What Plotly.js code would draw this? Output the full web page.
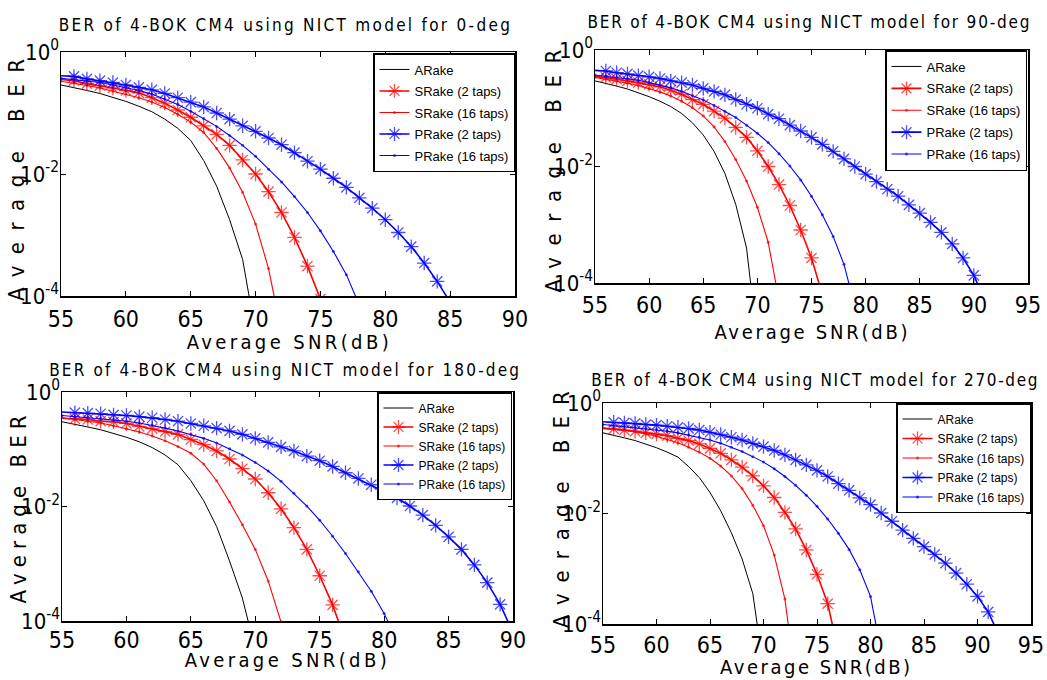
<!DOCTYPE html>
<html><head><meta charset="utf-8">
<script src="https://cdn.plot.ly/plotly-3.0.1.min.js"></script>
<style>
body{margin:0;background:#fff}
#chart{width:1047px;height:680px}
</style>
</head><body><div id="chart"></div>
<script>
// ---------- data ----------
const SNR_DB = [55,56,57,58,59,60,61,62,63,64,65,66,67,68,69,70,71,72,73,74,75,76,77,78,79,80,81,82,83,84,85,86,87,88,89,90,91,92];

const PANEL_TITLES = [
  'BER of 4-BOK CM4 using NICT model for 0-deg',
  'BER of 4-BOK CM4 using NICT model for 90-deg',
  'BER of 4-BOK CM4 using NICT model for 180-deg',
  'BER of 4-BOK CM4 using NICT model for 270-deg'
];
const SERIES_NAMES = ['ARake','SRake (2 taps)','SRake (16 taps)','PRake (2 taps)','PRake (16 taps)'];
const X_TITLE = 'Average SNR(dB)';
const Y_TITLE = 'Average BER';
const X_TICKS_90 = [55,60,65,70,75,80,85,90];
const X_TICKS_95 = [55,60,65,70,75,80,85,90,95];
const Y_TICK_VALS = [1e-4,1e-2,1];
const Y_TICK_TEXT = ['10<sup>-4</sup>','10<sup>-2</sup>','10<sup>0</sup>'];

// 0-deg
const ber0_ARake   = [0.288,0.263,0.234,0.209,0.182,0.155,0.129,0.105,7.94e-2,5.62e-2,3.55e-2,1.66e-2,6.31e-3,1.78e-3,3.98e-4,2.51e-5];
const ber0_SRake2  = [0.355,0.339,0.302,0.282,0.257,0.234,0.214,0.178,0.145,0.112,8.51e-2,6.17e-2,4.47e-2,2.95e-2,1.70e-2,1.00e-2,5.13e-3,2.34e-3,9.12e-4,3.09e-4,8.91e-5];
const ber0_SRake16 = [0.331,0.309,0.282,0.257,0.229,0.204,0.178,0.151,0.123,9.55e-2,7.08e-2,4.79e-2,2.63e-2,1.26e-2,5.01e-3,1.51e-3,2.82e-4,2.51e-5];
const ber0_PRake2  = [0.407,0.398,0.363,0.339,0.316,0.288,0.263,0.240,0.209,0.178,0.151,0.126,0.100,7.94e-2,6.17e-2,5.01e-2,3.89e-2,3.02e-2,2.24e-2,1.62e-2,1.20e-2,8.51e-3,6.03e-3,4.07e-3,2.75e-3,1.78e-3,1.10e-3,6.46e-4,3.47e-4,1.74e-4,7.94e-5];
const ber0_PRake16 = [0.372,0.355,0.339,0.316,0.288,0.263,0.234,0.204,0.170,0.138,0.107,8.13e-2,6.03e-2,4.27e-2,2.95e-2,1.95e-2,1.20e-2,7.41e-3,4.27e-3,2.34e-3,1.17e-3,5.37e-4,2.24e-4,7.08e-5];

// 90-deg
const ber90_ARake   = [0.295,0.269,0.240,0.214,0.186,0.158,0.132,0.107,8.13e-2,5.62e-2,3.47e-2,1.82e-2,7.59e-3,2.24e-3,3.98e-4,1.0e-5];
const ber90_SRake2  = [0.355,0.339,0.316,0.295,0.275,0.257,0.234,0.204,0.174,0.141,0.117,8.91e-2,6.76e-2,4.68e-2,3.16e-2,1.86e-2,1.00e-2,4.90e-3,2.14e-3,8.13e-4,2.69e-4,6.31e-5];
const ber90_SRake16 = [0.339,0.316,0.295,0.269,0.245,0.219,0.191,0.162,0.132,0.102,7.41e-2,4.79e-2,2.69e-2,1.32e-2,5.62e-3,2.00e-3,5.01e-4,5.01e-5];
const ber90_PRake2  = [0.447,0.437,0.407,0.389,0.363,0.347,0.324,0.295,0.275,0.251,0.219,0.195,0.170,0.141,0.117,0.100,7.94e-2,6.61e-2,5.13e-2,4.07e-2,3.16e-2,2.40e-2,1.82e-2,1.35e-2,1.00e-2,7.41e-3,5.50e-3,4.07e-3,3.09e-3,2.19e-3,1.58e-3,1.10e-3,7.41e-4,4.68e-4,2.69e-4,1.35e-4,5.01e-5];
const ber90_PRake16 = [0.372,0.355,0.339,0.324,0.302,0.275,0.251,0.224,0.195,0.166,0.138,0.112,8.91e-2,6.92e-2,5.13e-2,3.72e-2,2.57e-2,1.66e-2,1.02e-2,5.89e-3,3.09e-3,1.48e-3,6.31e-4,2.09e-4,3.98e-5];

// 180-deg
const ber180_ARake   = [0.302,0.275,0.245,0.219,0.191,0.162,0.135,0.107,7.94e-2,5.37e-2,2.82e-2,1.26e-2,4.47e-3,1.12e-3,2.51e-4,3.16e-5];
const ber180_SRake2  = [0.347,0.339,0.331,0.309,0.302,0.282,0.251,0.229,0.204,0.182,0.148,0.120,9.33e-2,6.76e-2,4.57e-2,3.02e-2,1.74e-2,9.12e-3,4.27e-3,1.78e-3,6.17e-4,1.91e-4,4.47e-5];
const ber180_SRake16 = [0.355,0.331,0.309,0.288,0.257,0.229,0.200,0.170,0.141,0.112,8.51e-2,5.50e-2,2.82e-2,1.20e-2,4.79e-3,1.78e-3,5.01e-4,9.55e-5,1.26e-5];
const ber180_PRake2  = [0.447,0.437,0.427,0.417,0.398,0.389,0.372,0.355,0.331,0.309,0.282,0.257,0.234,0.209,0.182,0.155,0.132,0.110,9.33e-2,7.59e-2,6.31e-2,5.01e-2,3.89e-2,3.09e-2,2.40e-2,1.86e-2,1.41e-2,1.02e-2,7.08e-3,4.68e-3,2.95e-3,1.78e-3,9.55e-4,4.68e-4,1.95e-4,6.31e-5];
const ber180_PRake16 = [0.389,0.372,0.363,0.347,0.331,0.309,0.288,0.263,0.234,0.209,0.182,0.155,0.129,0.102,7.94e-2,5.89e-2,4.17e-2,2.75e-2,1.70e-2,1.02e-2,5.75e-3,3.02e-3,1.51e-3,7.24e-4,3.31e-4,1.35e-4,4.47e-5];

// 270-deg
const ber270_ARake   = [0.288,0.263,0.234,0.209,0.182,0.155,0.129,0.105,7.08e-2,4.47e-2,2.40e-2,1.12e-2,4.47e-3,1.51e-3,3.55e-4,1.58e-5];
const ber270_SRake2  = [0.347,0.339,0.324,0.309,0.288,0.275,0.257,0.229,0.209,0.182,0.151,0.123,9.33e-2,6.92e-2,4.79e-2,3.16e-2,1.95e-2,1.05e-2,5.25e-3,2.19e-3,7.94e-4,2.34e-4,3.16e-5];
const ber270_SRake16 = [0.355,0.339,0.324,0.302,0.275,0.251,0.219,0.191,0.158,0.129,0.100,7.24e-2,4.79e-2,2.82e-2,1.41e-2,6.03e-3,1.78e-3,2.82e-4,1.0e-5];
const ber270_PRake2  = [0.457,0.447,0.437,0.427,0.407,0.398,0.380,0.363,0.347,0.324,0.295,0.269,0.240,0.214,0.186,0.162,0.138,0.115,9.33e-2,7.59e-2,6.03e-2,4.68e-2,3.47e-2,2.63e-2,1.91e-2,1.45e-2,1.02e-2,7.24e-3,5.01e-3,3.55e-3,2.51e-3,1.82e-3,1.26e-3,8.32e-4,5.25e-4,3.16e-4,1.66e-4,6.31e-5];
const ber270_PRake16 = [0.407,0.389,0.380,0.363,0.347,0.331,0.309,0.288,0.263,0.240,0.214,0.186,0.158,0.132,0.107,8.51e-2,6.46e-2,4.68e-2,3.24e-2,2.14e-2,1.35e-2,7.94e-3,4.37e-3,2.24e-3,9.55e-4,3.16e-4,3.16e-5];

// ---------- fonts ----------
const _ctx = document.createElement('canvas').getContext('2d');
function fontAvailable(name){
  const s = 'abcdefghijklmnopqrstuvwxyz0123456789ABCDEFGHIJKLMNOPQRSTUVWXYZ';
  return ['monospace','serif'].some(base=>{
    _ctx.font = '40px ' + base; const w0 = _ctx.measureText(s).width;
    _ctx.font = '40px "' + name + '", ' + base; return _ctx.measureText(s).width !== w0;
  });
}
const NARROW_NAME = ['Liberation Sans Narrow','Arial Narrow','DejaVu Sans Condensed','Roboto Condensed'].find(fontAvailable);
const BASE = '"Liberation Sans", Arial, sans-serif';
const TEXT_FAMILY = NARROW_NAME ? '"' + NARROW_NAME + '", ' + BASE : BASE;
const XTICK_SIZE = NARROW_NAME ? 23 : 21;
const YTICK_SIZE = NARROW_NAME ? 22 : 20;
function measure(text, size, family){ _ctx.font = size + 'px ' + family; return _ctx.measureText(text).width; }

// ---------- presentation ----------
const STYLES = [
  {color:'#000000', width:1.0},
  {color:'#ff0000', width:1.6, symbol:'asterisk-open', size:12, mw:1.3},
  {color:'#ff0000', width:1.1, symbol:'circle', size:3, mw:0},
  {color:'#0000ff', width:1.6, symbol:'asterisk-open', size:12, mw:1.3},
  {color:'#0000ff', width:1.1, symbol:'circle', size:3, mw:0}
];
const panels = [
  {xmax:90, series:[ber0_ARake,ber0_SRake2,ber0_SRake16,ber0_PRake2,ber0_PRake16],
   dx:[61/1047,515/1047], dy:[1-296/680,1-52/680], leg:{x:515/1047,y:1-53/680,size:13,gap:1.6},
   xso:2, t:[285,25,451], xt:[289,342,202], yt:[16,174,242]},
  {xmax:95, series:[ber90_ARake,ber90_SRake2,ber90_SRake16,ber90_PRake2,ber90_PRake16],
   dx:[595/1047,1028/1047], dy:[1-283/680,1-50/680], leg:{x:1027/1047,y:1-50/680,size:13,gap:2},
   xso:1, t:[809,22,442], xt:[812,332,193], yt:[553,165,243]},
  {xmax:90, series:[ber180_ARake,ber180_SRake2,ber180_SRake16,ber180_PRake2,ber180_PRake16],
   dx:[62/1047,513/1047], dy:[1-621/680,1-392/680], leg:{x:512/1047,y:1-392/680,size:12,gap:0},
   xso:-2, t:[285,370,470], xt:[287.5,660,202], yt:[18,506,188]},
  {xmax:95, series:[ber270_ARake,ber270_SRake2,ber270_SRake16,ber270_PRake2,ber270_PRake16],
   dx:[603/1047,1031/1047], dy:[1-624/680,1-403/680], leg:{x:1031/1047,y:1-403/680,size:12,gap:0.5},
   xso:0, t:[815,380,446], xt:[816.7,667,190], yt:[561,504,237]}
];
const TITLE_SIZE = 17, XT_SIZE = 20, YT_SIZE = 22;

const traces = [];
const layout = {
  width:1047, height:680, margin:{l:0,r:0,t:0,b:0},
  paper_bgcolor:'#ffffff', plot_bgcolor:'#ffffff', showlegend:true,
  annotations:[]
};
const titleAnn = [], xAnn = [], yAnn = [];
panels.forEach((p,i)=>{
  const n = i===0 ? '' : String(i+1);
  const legId = 'legend' + n;
  const axisCommon = {
    ticks:'inside', ticklen:5, tickwidth:1, tickcolor:'#000',
    showline:true, linecolor:'#000', linewidth:1.5, mirror:'ticks',
    showgrid:false, zeroline:false, fixedrange:true
  };
  layout['xaxis'+n] = Object.assign({
    domain:p.dx, anchor:'y'+n, range:[55,p.xmax], tickmode:'array',
    tickvals: p.xmax===90 ? X_TICKS_90 : X_TICKS_95, ticklabelstandoff:p.xso,
    tickfont:{family:TEXT_FAMILY, size:XTICK_SIZE, color:'#000'}
  }, axisCommon);
  layout['yaxis'+n] = Object.assign({
    domain:p.dy, anchor:'x'+n, type:'log', range:[-4,0], tickmode:'array',
    tickvals:Y_TICK_VALS, ticktext:Y_TICK_TEXT, ticklabelstandoff:-4,
    tickfont:{family:TEXT_FAMILY, size:YTICK_SIZE, color:'#000'}
  }, axisCommon);
  layout[legId] = {
    x:p.leg.x, y:p.leg.y, xanchor:'right', yanchor:'top',
    bgcolor:'#ffffff', bordercolor:'#000', borderwidth:1.5,
    font:{family:BASE, size:p.leg.size, color:'#000'},
    traceorder:'grouped', tracegroupgap:p.leg.gap, itemwidth:30
  };
  p.series.forEach((ber,k)=>{
    const st = STYLES[k];
    const xs = SNR_DB.slice(0, ber.length);
    const tr = {
      type:'scatter', x:xs, y:ber, name:SERIES_NAMES[k],
      xaxis:'x'+n, yaxis:'y'+n, legend:legId, legendgroup:'p'+i+'s'+k,
      mode: st.symbol ? 'lines+markers' : 'lines',
      line:{color:st.color, width:st.width}, hoverinfo:'skip'
    };
    if (st.symbol) {
      tr.marker = {symbol:st.symbol, color:st.color,
        size: xs.map(v => (st.size > 5 && v === 55) ? 0 : st.size),
        line:{color:st.color, width:st.mw}};
    }
    traces.push(tr);
  });
  titleAnn.push({text:PANEL_TITLES[i], x:p.t[0]/1047, y:1-p.t[1]/680, xref:'paper', yref:'paper',
    xanchor:'center', yanchor:'middle', showarrow:false, font:{family:TEXT_FAMILY, size:TITLE_SIZE, color:'#000'}});
  xAnn.push({text:X_TITLE, x:p.xt[0]/1047, y:1-p.xt[1]/680, xref:'paper', yref:'paper',
    xanchor:'center', yanchor:'middle', showarrow:false, font:{family:TEXT_FAMILY, size:XT_SIZE, color:'#000'}});
  yAnn.push({text:Y_TITLE, x:p.yt[0]/1047, y:1-p.yt[1]/680, xref:'paper', yref:'paper', textangle:-90,
    xanchor:'center', yanchor:'middle', showarrow:false, font:{family:TEXT_FAMILY, size:YT_SIZE, color:'#000'}});
});
layout.annotations = titleAnn.concat(xAnn, yAnn);

// letter spacing so each title spans the width seen in the reference
let css = '';
layout.annotations.forEach((a,idx)=>{
  const grp = Math.floor(idx/4), pi = idx % 4;
  const target = grp===0 ? panels[pi].t[2] : grp===1 ? panels[pi].xt[2] : panels[pi].yt[2];
  const w = measure(a.text, a.font.size, a.font.family);
  const s = Math.max(0, (target - w) / (a.text.length - 1));
  css += 'g.annotation[data-index="' + idx + '"] text{letter-spacing:' + s.toFixed(2) + 'px}\n';
});
const styleEl = document.createElement('style'); styleEl.textContent = css; document.head.appendChild(styleEl);

Plotly.newPlot('chart', traces, layout, {displayModeBar:false, staticPlot:true});
</script></body></html>
